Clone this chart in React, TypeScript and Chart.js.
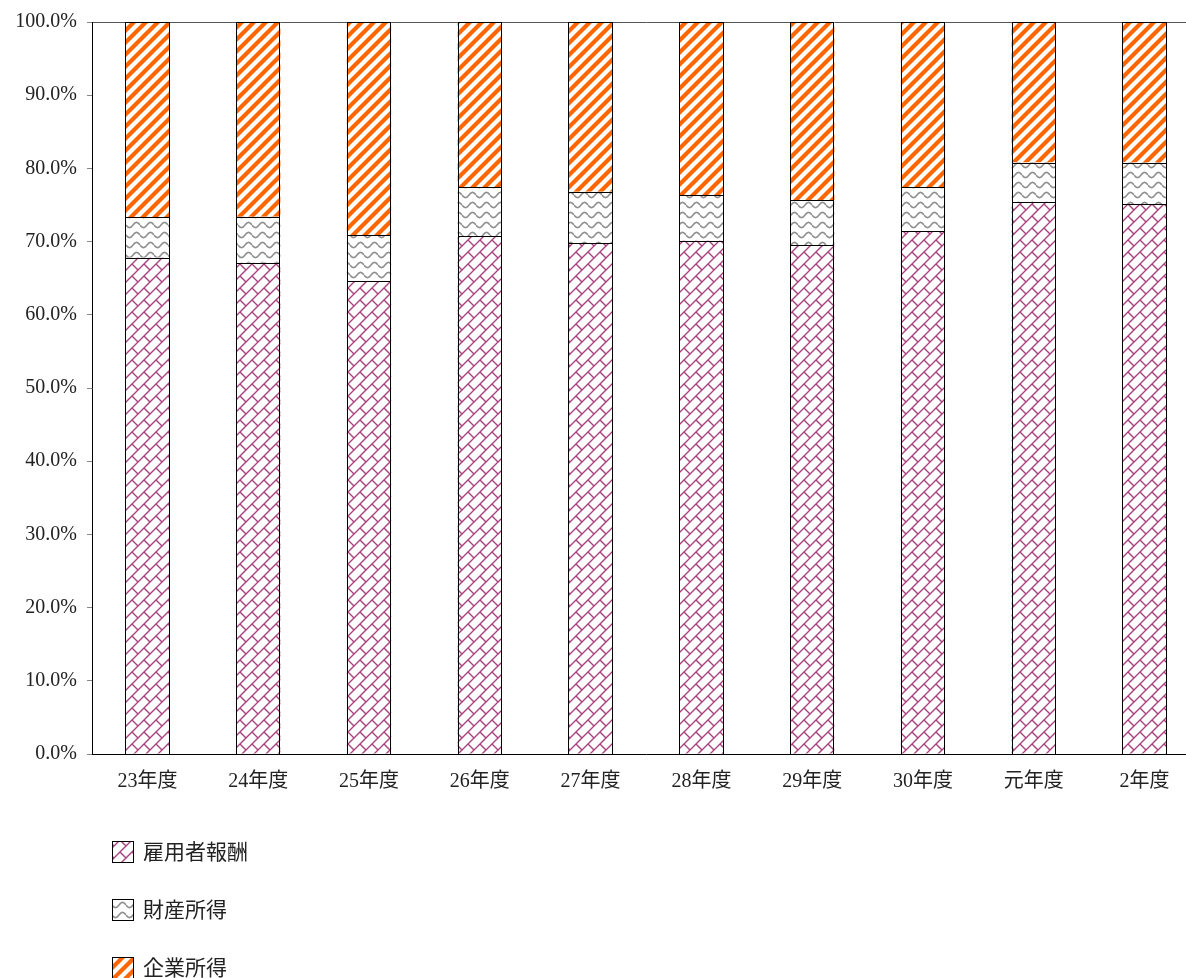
import React, { useEffect, useRef } from "react";
import { Chart, registerables } from "chart.js";

Chart.register(...registerables);

// 年度別 分配所得の構成比（％）
const categories = ["23年度", "24年度", "25年度", "26年度", "27年度", "28年度", "29年度", "30年度", "元年度", "2年度"];
const seriesNames = ["雇用者報酬", "財産所得", "企業所得"];
const employeeComp = [67.8, 67.1, 64.6, 70.7, 69.8, 70.1, 69.5, 71.4, 75.4, 75.1];
const propertyIncome = [5.5, 6.3, 6.3, 6.7, 7.0, 6.2, 6.2, 6.0, 5.4, 5.7];
const corporateIncome = [26.7, 26.6, 29.1, 22.6, 23.2, 23.7, 24.3, 22.6, 19.2, 19.2];
const yTicks = [0, 10, 20, 30, 40, 50, 60, 70, 80, 90, 100];

const FONT = "'Liberation Serif', 'Noto Sans CJK JP', serif";
const TEXT = "#222";

function tile(w: number, h: number, draw: (ctx: CanvasRenderingContext2D) => void): CanvasPattern {
  const c = document.createElement("canvas");
  c.width = w;
  c.height = h;
  const ctx = c.getContext("2d") as CanvasRenderingContext2D;
  ctx.fillStyle = "#ffffff";
  ctx.fillRect(0, 0, w, h);
  draw(ctx);
  return ctx.createPattern(c, "repeat") as CanvasPattern;
}

// 斜めレンガ模様
function brickPattern(): CanvasPattern {
  const T = 24;
  const h = T / 2;
  return tile(T, T, (ctx) => {
    ctx.strokeStyle = "#a8417f";
    ctx.lineWidth = 1.4;
    ctx.lineCap = "round";
    ctx.beginPath();
    for (const c of [0, h, 2 * h, 3 * h, 4 * h]) {
      ctx.moveTo(-T, c + T);
      ctx.lineTo(c + T, -T);
    }
    // 目地：段ごとに半分ずらす
    const joints: [number, number][] = [
      [0, 0], [h, -h],
      [h, 0], [0, h],
    ];
    for (const [x, y] of joints) {
      for (const dx of [-T, 0, T]) {
        for (const dy of [-T, 0, T]) {
          ctx.moveTo(x + dx, y + dy);
          ctx.lineTo(x + dx + h / 2, y + dy + h / 2);
        }
      }
    }
    ctx.stroke();
  });
}

// 波線模様
function wavePattern(): CanvasPattern {
  const W = 14;
  const H = 10;
  return tile(W, H, (ctx) => {
    ctx.strokeStyle = "#8f8f8f";
    ctx.lineWidth = 1.6;
    ctx.beginPath();
    for (let x = 0; x <= W; x += 0.5) {
      const y = H / 2 + 2.6 * Math.sin((2 * Math.PI * x) / W);
      if (x === 0) ctx.moveTo(x, y);
      else ctx.lineTo(x, y);
    }
    ctx.stroke();
  });
}

// 斜線模様
function stripePattern(): CanvasPattern {
  const S = 12;
  return tile(S, S, (ctx) => {
    ctx.strokeStyle = "#ff6600";
    ctx.lineWidth = 4.2;
    ctx.beginPath();
    for (const c of [0, S, 2 * S]) {
      ctx.moveTo(-S, c + S);
      ctx.lineTo(c + S, -S);
    }
    ctx.stroke();
  });
}

// 各棒の枠線を画素にそろえて描く
const crispBorders = {
  id: "crispBorders",
  afterDatasetsDraw(chart: any) {
    const { ctx } = chart;
    ctx.save();
    ctx.strokeStyle = "#000";
    ctx.lineWidth = 1;
    chart.data.datasets.forEach((_: any, i: number) => {
      const meta = chart.getDatasetMeta(i);
      meta.data.forEach((el: any) => {
        const { x, y, base, width } = el.getProps(["x", "y", "base", "width"], true);
        const l = Math.round(x - width / 2);
        const r = Math.round(x + width / 2);
        const t = Math.round(Math.min(y, base));
        const b = Math.round(Math.max(y, base));
        ctx.strokeRect(l + 0.5, t + 0.5, r - l - 1, b - t);
      });
    });
    ctx.restore();
  },
};

// 凡例を縦に並べて描く
const verticalLegend = {
  id: "verticalLegend",
  afterDraw(chart: any) {
    const { ctx, chartArea } = chart;
    const x0 = chartArea.left + 20;
    const y0 = chartArea.bottom + 98;
    const gap = 58;
    const box = 22;
    ctx.save();
    chart.data.datasets.forEach((ds: any, i: number) => {
      const cy = y0 + i * gap;
      ctx.fillStyle = ds.backgroundColor;
      ctx.fillRect(x0, cy - box / 2, box, box);
      ctx.strokeStyle = "#000";
      ctx.lineWidth = 1;
      ctx.strokeRect(x0 + 0.5, cy - box / 2 + 0.5, box - 1, box - 1);
      ctx.fillStyle = TEXT;
      ctx.font = `21px ${FONT}`;
      ctx.textBaseline = "middle";
      ctx.textAlign = "left";
      ctx.fillText(ds.label, x0 + box + 9, cy + 1);
    });
    ctx.restore();
  },
};

export default function App() {
  const ref = useRef<HTMLCanvasElement | null>(null);

  useEffect(() => {
    if (!ref.current) return;
    const common = {
      borderWidth: 0,
      barPercentage: 0.4,
      categoryPercentage: 1,
    };
    const chart = new Chart(ref.current, {
      type: "bar",
      data: {
        labels: categories,
        datasets: [
          { label: seriesNames[0], data: employeeComp, backgroundColor: brickPattern(), ...common },
          { label: seriesNames[1], data: propertyIncome, backgroundColor: wavePattern(), ...common },
          { label: seriesNames[2], data: corporateIncome, backgroundColor: stripePattern(), ...common },
        ],
      },
      options: {
        responsive: false,
        animation: false,
        layout: { padding: { top: 21, right: 15, left: 0, bottom: 0 } },
        plugins: {
          legend: { display: false },
          tooltip: { enabled: false },
        },
        scales: {
          x: {
            stacked: true,
            offset: true,
            grid: { display: false },
            border: { display: true, color: "#000", width: 1 },
            ticks: {
              color: TEXT,
              font: { family: FONT, size: 20 },
              padding: 8,
              autoSkip: false,
              maxRotation: 0,
            },
            afterFit: (scale: any) => {
              scale.height = 224;
            },
          },
          y: {
            stacked: true,
            min: 0,
            max: 100,
            afterBuildTicks: (scale: any) => {
              scale.ticks = yTicks.map((v) => ({ value: v }));
            },
            grid: {
              drawOnChartArea: true,
              drawTicks: true,
              tickLength: 5,
              color: (ctx: any) => (ctx.tick && ctx.tick.value === 100 ? "#555" : "rgba(0,0,0,0)"),
              tickColor: "#888",
            },
            border: { display: true, color: "#000", width: 1 },
            ticks: {
              color: TEXT,
              font: { family: FONT, size: 20 },
              padding: 10,
              callback: (v: any) => `${Number(v).toFixed(1)}%`,
            },
            afterFit: (scale: any) => {
              scale.width = 92;
            },
          },
        },
      },
      plugins: [crispBorders, verticalLegend],
    });
    return () => chart.destroy();
  }, []);

  return (
    <div style={{ position: "absolute", left: 0, top: 0, width: 1186, height: 978, overflow: "hidden", background: "#fff" }}>
      <canvas ref={ref} width={1215} height={978} />
    </div>
  );
}
